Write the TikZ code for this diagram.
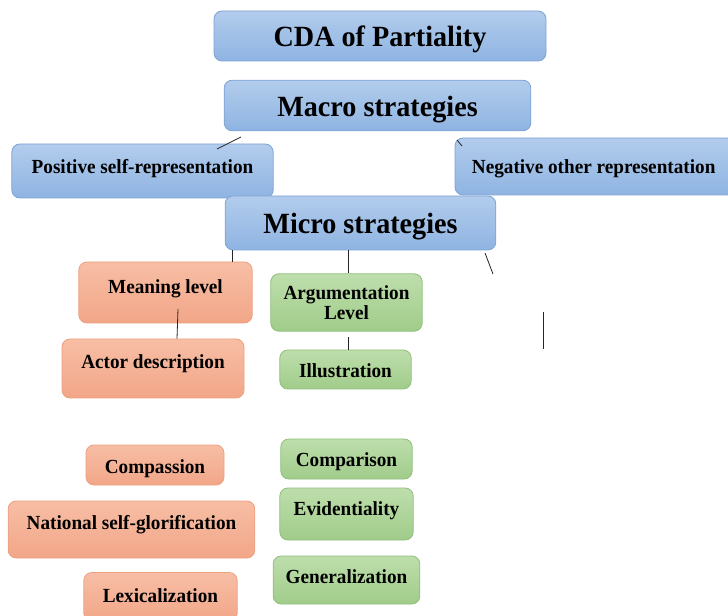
\documentclass[tikz,border=0pt]{standalone}
\usepackage{fontspec}
\setmainfont{Liberation Serif}[FakeStretch=0.96]
\usepackage{tikz}
\usetikzlibrary{positioning}
\definecolor{bluetop}{RGB}{178,204,236}
\definecolor{bluebot}{RGB}{143,180,226}
\definecolor{blueline}{RGB}{125,162,212}
\definecolor{orangetop}{RGB}{247,190,165}
\definecolor{orangebot}{RGB}{242,166,136}
\definecolor{orangeline}{RGB}{236,160,128}
\definecolor{greentop}{RGB}{190,222,172}
\definecolor{greenbot}{RGB}{160,204,138}
\definecolor{greenline}{RGB}{142,190,122}
\newcommand{\lift}[2]{\raisebox{#1}[\height][\depth]{#2}}

\begin{document}
\begin{tikzpicture}[
  x=0.75pt, y=-0.75pt,
  stratbox/.style={rectangle, rounded corners=6pt, draw=blueline, line width=0.6pt,
             top color=bluetop, bottom color=bluebot, align=center, inner sep=2pt,
             font=\fontsize{22}{24}\selectfont\bfseries},
  sidebox/.style={stratbox, font=\fontsize{15}{16}\selectfont\bfseries},
  meanbox/.style={rectangle, rounded corners=6pt, draw=orangeline, line width=0.6pt,
             top color=orangetop, bottom color=orangebot, align=center, inner sep=2pt,
             font=\fontsize{15}{16}\selectfont\bfseries},
  argbox/.style={rectangle, rounded corners=6pt, draw=greenline, line width=0.6pt,
             top color=greentop, bottom color=greenbot, align=center, inner sep=2pt,
             font=\fontsize{15}{16}\selectfont\bfseries},
  link/.style={draw=black!85, line width=0.6pt}
]
\useasboundingbox (0,0) rectangle (728,616);

% ---- Top: CDA and macro level ----
\node[stratbox, minimum width=249pt, minimum height=37.5pt] (cda) at (380,36) {\lift{-2.25pt}{CDA of Partiality}};
\node[stratbox, minimum width=230pt, minimum height=38pt] (macro) at (377.5,105.5) {\lift{-3pt}{Macro strategies}};
\node[sidebox, minimum width=196pt, minimum height=40.5pt] (posself) at (142.5,171) {\lift{2pt}{Positive self-representation}};
\node[sidebox, minimum width=210pt, minimum height=42.75pt] (negother) at (595,166.5) {\hspace*{-1pt}\lift{-1.5pt}{Negative other representation}\hspace*{1pt}};
\node[stratbox, minimum width=203pt, minimum height=40.5pt] (micro) at (360.5,223) {\lift{-3pt}{Micro strategies}};

% ---- Left column: meaning level ----
\node[meanbox, minimum width=130pt, minimum height=45.75pt] (meaning) at (165.5,292.5) {\lift{3pt}{Meaning level}};
\node[meanbox, minimum width=136.5pt, minimum height=44.25pt] (actor) at (153,368.5) {\lift{3.5pt}{Actor description}};
\node[meanbox, minimum width=103.5pt, minimum height=30pt] (compassion) at (155,465) {\lift{-2.5pt}{Compassion}};
\node[meanbox, minimum width=185pt, minimum height=42.75pt] (natglory) at (131.5,529.5) {\lift{4pt}{National self-glorification}};
\node[meanbox, minimum width=115pt, minimum height=36.75pt] (lexical) at (160.5,597) {\lift{0.75pt}{Lexicalization}};

% ---- Middle column: argumentation level ----
\node[argbox, minimum width=113.5pt, minimum height=43pt] (argument) at (346.5,302.5) {\lift{-2.25pt}{\begin{tabular}{@{}c@{}}Argumentation\\[-1pt]Level\end{tabular}}};
\node[argbox, minimum width=98.5pt, minimum height=29.25pt] (illus) at (345.5,369.5) {\lift{-0.75pt}{Illustration}};
\node[argbox, minimum width=98.5pt, minimum height=30pt] (comparison) at (346.5,459) {\lift{-2.25pt}{Comparison}};
\node[argbox, minimum width=100pt, minimum height=39pt] (evidential) at (346.5,514) {\lift{2.5pt}{Evidentiality}};
\node[argbox, minimum width=110pt, minimum height=36pt] (general) at (346.5,580) {\lift{2.25pt}{Generalization}};

% ---- Connectors ----
\coordinate (macroleft) at (241,137);
\coordinate (posleft) at (217,149);
\coordinate (macroright) at (457,140);
\coordinate (negright) at (462,146);
\coordinate (microright) at (485,253);
\coordinate (microend) at (493,274);
\coordinate (meantop) at (178,309);
\coordinate (argtop) at (348,337);
\coordinate (loosetop) at (543,312);
\coordinate (loosebot) at (543,349);

\draw[link] (macroleft) -- (posleft);
\draw[link] (macroright) -- (negright);
\draw[link] (232,0 |- micro.south) -- (232,0 |- meaning.north);
\draw[link] (348,0 |- micro.south) -- (348,0 |- argument.north);
\draw[link] (microright) -- (microend);
\draw[link] (meantop) -- (177,0 |- actor.north);
\draw[link] (argtop) -- (argtop |- illus.north);
\draw[link] (loosetop) -- (loosebot);

\end{tikzpicture}
\end{document}
